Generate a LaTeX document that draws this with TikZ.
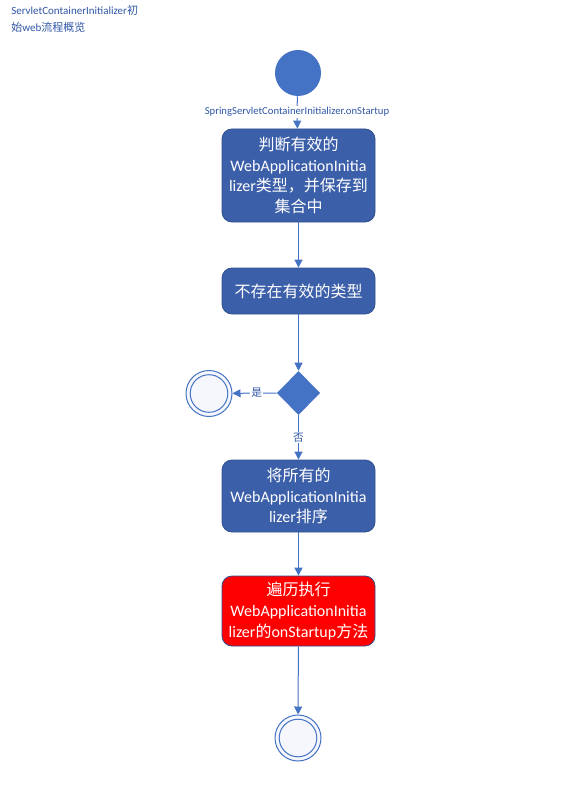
\documentclass[tikz,border=0pt]{standalone}
\usepackage{fontspec}
\setmainfont{Carlito}
\newfontfamily\cjk{Noto Sans CJK SC}
\usetikzlibrary{shapes.geometric,arrows.meta}
\definecolor{lineblue}{HTML}{4472C4}
\definecolor{boxblue}{HTML}{3C5FA9}
\definecolor{boxedge}{HTML}{2F4F8F}
\definecolor{textblue}{HTML}{2F56A6}
\definecolor{endfill}{HTML}{F5F7FC}
\begin{document}
\begin{tikzpicture}[x=0.75pt,y=-0.75pt,
  stepbox/.style={draw=boxedge,line width=0.6pt,fill=boxblue,rounded corners=7.5pt,
    minimum width=114.75pt,text width=112pt,align=center,inner sep=0pt,text=white,
    font=\fontsize{12pt}{15.5pt}\selectfont},
  redbox/.style={stepbox,fill=red},
  startnode/.style={circle,fill=lineblue,minimum size=34.5pt,inner sep=0pt},
  endnode/.style={circle,draw=lineblue,line width=0.75pt,fill=endfill,minimum size=34.5pt,inner sep=0pt,
    path picture={\draw[lineblue,line width=0.75pt] (path picture bounding box.center) circle[radius=14.1pt];}},
  decide/.style={diamond,fill=lineblue,minimum width=32.5pt,minimum height=33pt,inner sep=0pt},
  flow/.style={draw=lineblue,line width=0.75pt,-{Triangle[length=6pt,width=6pt]}},
  lbl/.style={font=\fontsize{8pt}{9.5pt}\selectfont,text=textblue,fill=white,inner sep=1pt}
]
\useasboundingbox (0,0) rectangle (565,809);
\node[anchor=north west,align=left,text=textblue,inner sep=0pt,
  font=\fontsize{8.25pt}{12.5pt}\selectfont] (title) at (11,5)
  {ServletContainerInitializer{\cjk 初}\\{\cjk 始}web{\cjk 流程概览}};
\node[startnode] (start) at (298,73) {};
\node[lbl,fill=none] (startlbl) at (297,112) {SpringServletContainerInitializer.onStartup};
\node[stepbox,minimum height=69.75pt] (b1) at (298.5,175.5)
  {{\cjk 判断有效的}\\WebApplicationInitia\\lizer{\cjk 类型，并保存到}\\{\cjk 集合中}};
\node[stepbox,minimum height=34.5pt] (b2) at (298.5,291)
  {{\cjk 不存在有效的类型}};
\node[decide] (dec) at (298.5,393) {};
\node[endnode] (end1) at (209,393.5) {};
\node[stepbox,minimum height=54pt] (b3) at (298.5,496)
  {{\cjk 将所有的}\\WebApplicationInitia\\lizer{\cjk 排序}};
\node[redbox,minimum height=52.5pt] (b4) at (298.5,611)
  {{\cjk 遍历执行}\\WebApplicationInitia\\lizer{\cjk 的}onStartup{\cjk 方法}};
\node[endnode] (end2) at (298,738) {};
\draw[draw=lineblue,line width=0.75pt] (start) -- (startlbl);
\draw[flow] (startlbl) -- (b1);
\draw[flow] (b1) -- (b2);
\draw[flow] (b2) -- (dec.north);
\draw[flow] (dec.west) -- node[lbl,pos=0.45]{\cjk 是} (end1);
\draw[flow] (dec.south) -- node[lbl,pos=0.5]{\cjk 否} (b3);
\draw[flow] (b3) -- (b4);
\draw[flow] (b4) -- (end2);
\end{tikzpicture}
\end{document}
